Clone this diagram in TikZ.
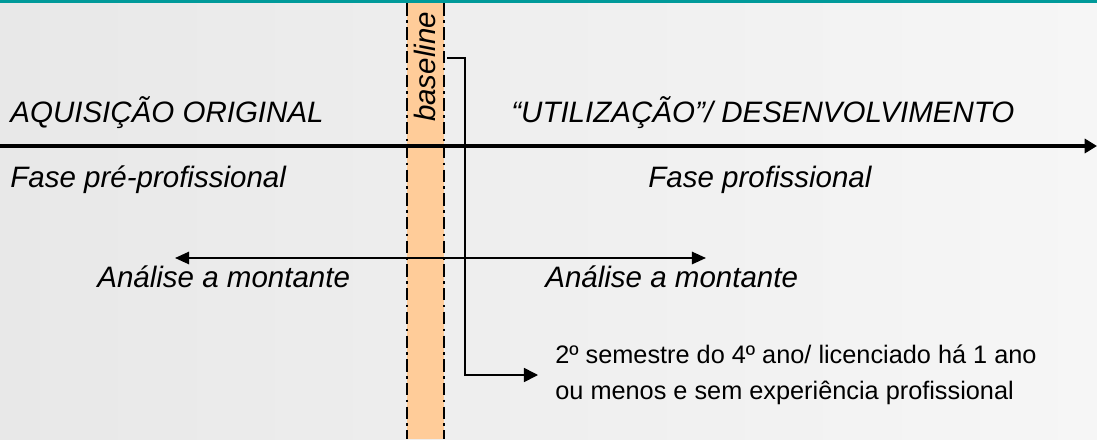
\documentclass[tikz,border=0pt]{standalone}
\usepackage{fontspec}
\setmainfont{Liberation Sans}
\usetikzlibrary{arrows.meta}
\definecolor{teal}{HTML}{009A9A}
\definecolor{band}{HTML}{FFCC99}
\definecolor{bgl}{HTML}{E8E8E8}
\definecolor{bgr}{HTML}{F6F6F6}
\tikzset{
  biglabel/.style={font=\fontsize{16.8}{20}\selectfont\itshape, inner sep=0pt},
  smalltext/.style={font=\fontsize{14.4}{17}\selectfont, inner sep=0pt, align=left},
  bandedge/.style={line width=1pt, dash pattern=on 7pt off 2.5pt on 1.5pt off 2.5pt},
  mainarrow/.style={line width=2.3pt, -{Triangle[length=7pt,width=8pt]}},
  spanarrow/.style={line width=1.1pt, {Triangle[length=8pt,width=7pt]}-{Triangle[length=8pt,width=7pt]}},
  elbow/.style={line width=0.9pt, -{Triangle[length=8pt,width=8pt]}}
}
\begin{document}
\begin{tikzpicture}[x=0.02cm,y=-0.02cm]
\useasboundingbox (0,0) rectangle (1097,439);
\shade[left color=bgl, right color=bgr] (0,0) rectangle (1097,439);
\fill[teal] (0,0) rectangle (1097,3.5);
\fill[band] (407,3.5) rectangle (444,439);
\draw[bandedge] (407,3.5) -- (407,439);
\draw[bandedge] (444,3.5) -- (444,439);
\node[biglabel, rotate=90] (base) at (425,67) {baseline};
% main axis
\coordinate (axL) at (0,146);
\coordinate (axR) at (1097,146);
\draw[mainarrow] (axL) -- (axR);
\node[biglabel, anchor=base west] (aq) at (10,122) {AQUISIÇÃO ORIGINAL};
\node[biglabel, anchor=base west] (ut) at (511,122) {“UTILIZAÇÃO”/ DESENVOLVIMENTO};
\node[biglabel, anchor=base west] (fpp) at (10,187) {Fase pré-profissional};
\node[biglabel, anchor=base west] (fp) at (648,187) {Fase profissional};
% span arrow
\coordinate (spL) at (175,258);
\coordinate (spR) at (706,258);
\draw[spanarrow] (spL) -- (spR);
\node[biglabel, anchor=base west] (am1) at (97,287) {Análise a montante};
\node[biglabel, anchor=base west] (am2) at (545,287) {Análise a montante};
% elbow connector
\coordinate (elS) at (447,58);
\node[smalltext, anchor=north west] (note) at (555,345) {2º semestre do 4º ano/ licenciado há 1 ano\\[3pt]ou menos e sem experiência profissional};
\coordinate (elE) at (538,375);
\draw[elbow] (elS) -- (465,58) -- (465,375) -- (elE);
\end{tikzpicture}
\end{document}
